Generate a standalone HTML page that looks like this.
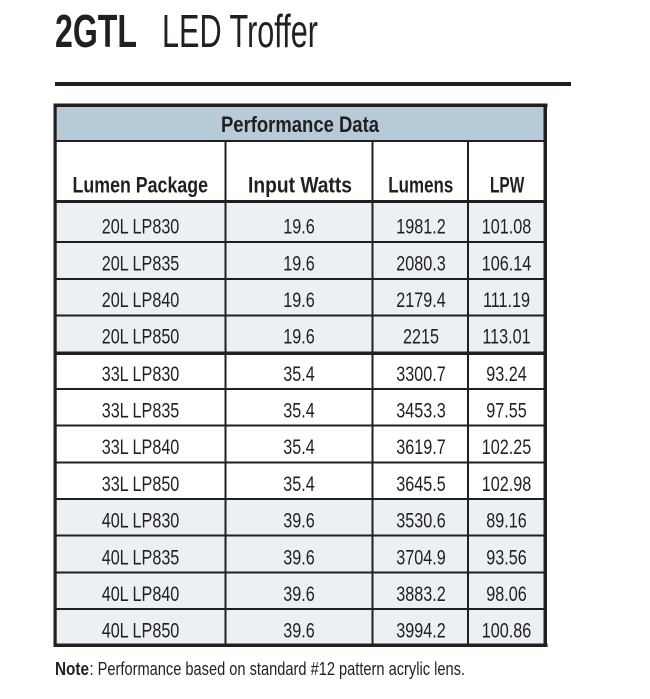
<!DOCTYPE html>
<html>
<head>
<meta charset="utf-8">
<style>
html,body{margin:0;padding:0;background:#fff;}
svg{display:block;}
text{font-family:"Liberation Sans",sans-serif;fill:#231f20;}
.b{font-weight:bold;}
.d{font-size:21px;text-anchor:middle;}
</style>
</head>
<body>
<svg width="650" height="699" viewBox="0 0 650 699" xmlns="http://www.w3.org/2000/svg">
<rect x="0" y="0" width="650" height="699" fill="#fff"/>
<!-- Title -->
<text x="55" y="47" class="b" font-size="46" textLength="82" lengthAdjust="spacingAndGlyphs">2GTL</text>
<text x="162" y="47" font-size="46" textLength="156" lengthAdjust="spacingAndGlyphs">LED Troffer</text>
<rect x="55" y="82" width="516" height="4" fill="#231f20"/>

<!-- table backgrounds -->
<rect x="54" y="104" width="492" height="38" fill="#b6cad7"/>
<rect x="54" y="142" width="492" height="60" fill="#fff"/>
<rect x="54" y="202" width="492" height="152" fill="#eaf0f4"/>
<rect x="54" y="352" width="492" height="148" fill="#fff"/>
<rect x="54" y="499" width="492" height="146" fill="#eaf0f4"/>

<!-- horizontal lines -->
<g fill="#231f20">
<rect x="54" y="140" width="492" height="2"/>
<rect x="54" y="200" width="492" height="3"/>
<rect x="54" y="241" width="492" height="2"/>
<rect x="54" y="278" width="492" height="2"/>
<rect x="54" y="314.5" width="492" height="2"/>
<rect x="54" y="351.5" width="492" height="3.5"/>
<rect x="54" y="388" width="492" height="2"/>
<rect x="54" y="424.5" width="492" height="2"/>
<rect x="54" y="461.5" width="492" height="2"/>
<rect x="54" y="498" width="492" height="2"/>
<rect x="54" y="534.5" width="492" height="2"/>
<rect x="54" y="571.5" width="492" height="2"/>
<rect x="54" y="608" width="492" height="2"/>
<!-- verticals -->
<rect x="224.5" y="142" width="2" height="502"/>
<rect x="371.5" y="142" width="2" height="502"/>
<rect x="467" y="142" width="2" height="502"/>
<!-- outer border -->
<rect x="53.5" y="103.5" width="494" height="3.5"/>
<rect x="53.5" y="643.5" width="494" height="3.5"/>
<rect x="53.5" y="103.5" width="3.2" height="543.5"/>
<rect x="543.5" y="103.5" width="3.5" height="543.5"/>
</g>

<!-- headers -->
<text x="221" y="132" class="b" font-size="22" textLength="158" lengthAdjust="spacingAndGlyphs">Performance Data</text>
<text x="72.5" y="192.5" class="b" font-size="22" textLength="135.5" lengthAdjust="spacingAndGlyphs">Lumen Package</text>
<text x="248" y="192.5" class="b" font-size="22" textLength="104" lengthAdjust="spacingAndGlyphs">Input Watts</text>
<text x="388.3" y="192.5" class="b" font-size="22" textLength="65" lengthAdjust="spacingAndGlyphs">Lumens</text>
<text x="490" y="192.5" class="b" font-size="22" textLength="34.3" lengthAdjust="spacingAndGlyphs">LPW</text>

<!-- data rows -->
<g class="d">
<text class="d" transform="translate(140.5,233.5) scale(0.77,1)">20L LP830</text>
<text class="d" transform="translate(299,233.5) scale(0.77,1)">19.6</text>
<text class="d" transform="translate(421,233.5) scale(0.77,1)">1981.2</text>
<text class="d" transform="translate(506.5,233.5) scale(0.77,1)">101.08</text>

<text class="d" transform="translate(140.5,270.3) scale(0.77,1)">20L LP835</text>
<text class="d" transform="translate(299,270.3) scale(0.77,1)">19.6</text>
<text class="d" transform="translate(421,270.3) scale(0.77,1)">2080.3</text>
<text class="d" transform="translate(506.5,270.3) scale(0.77,1)">106.14</text>

<text class="d" transform="translate(140.5,307) scale(0.77,1)">20L LP840</text>
<text class="d" transform="translate(299,307) scale(0.77,1)">19.6</text>
<text class="d" transform="translate(421,307) scale(0.77,1)">2179.4</text>
<text class="d" transform="translate(506.5,307) scale(0.77,1)">111.19</text>

<text class="d" transform="translate(140.5,343.7) scale(0.77,1)">20L LP850</text>
<text class="d" transform="translate(299,343.7) scale(0.77,1)">19.6</text>
<text class="d" transform="translate(421,343.7) scale(0.77,1)">2215</text>
<text class="d" transform="translate(506.5,343.7) scale(0.77,1)">113.01</text>

<text class="d" transform="translate(140.5,381) scale(0.77,1)">33L LP830</text>
<text class="d" transform="translate(299,381) scale(0.77,1)">35.4</text>
<text class="d" transform="translate(421,381) scale(0.77,1)">3300.7</text>
<text class="d" transform="translate(506.5,381) scale(0.77,1)">93.24</text>

<text class="d" transform="translate(140.5,417.5) scale(0.77,1)">33L LP835</text>
<text class="d" transform="translate(299,417.5) scale(0.77,1)">35.4</text>
<text class="d" transform="translate(421,417.5) scale(0.77,1)">3453.3</text>
<text class="d" transform="translate(506.5,417.5) scale(0.77,1)">97.55</text>

<text class="d" transform="translate(140.5,454.2) scale(0.77,1)">33L LP840</text>
<text class="d" transform="translate(299,454.2) scale(0.77,1)">35.4</text>
<text class="d" transform="translate(421,454.2) scale(0.77,1)">3619.7</text>
<text class="d" transform="translate(506.5,454.2) scale(0.77,1)">102.25</text>

<text class="d" transform="translate(140.5,490.9) scale(0.77,1)">33L LP850</text>
<text class="d" transform="translate(299,490.9) scale(0.77,1)">35.4</text>
<text class="d" transform="translate(421,490.9) scale(0.77,1)">3645.5</text>
<text class="d" transform="translate(506.5,490.9) scale(0.77,1)">102.98</text>

<text class="d" transform="translate(140.5,527.6) scale(0.77,1)">40L LP830</text>
<text class="d" transform="translate(299,527.6) scale(0.77,1)">39.6</text>
<text class="d" transform="translate(421,527.6) scale(0.77,1)">3530.6</text>
<text class="d" transform="translate(506.5,527.6) scale(0.77,1)">89.16</text>

<text class="d" transform="translate(140.5,564.3) scale(0.77,1)">40L LP835</text>
<text class="d" transform="translate(299,564.3) scale(0.77,1)">39.6</text>
<text class="d" transform="translate(421,564.3) scale(0.77,1)">3704.9</text>
<text class="d" transform="translate(506.5,564.3) scale(0.77,1)">93.56</text>

<text class="d" transform="translate(140.5,601) scale(0.77,1)">40L LP840</text>
<text class="d" transform="translate(299,601) scale(0.77,1)">39.6</text>
<text class="d" transform="translate(421,601) scale(0.77,1)">3883.2</text>
<text class="d" transform="translate(506.5,601) scale(0.77,1)">98.06</text>

<text class="d" transform="translate(140.5,637.5) scale(0.77,1)">40L LP850</text>
<text class="d" transform="translate(299,637.5) scale(0.77,1)">39.6</text>
<text class="d" transform="translate(421,637.5) scale(0.77,1)">3994.2</text>
<text class="d" transform="translate(506.5,637.5) scale(0.77,1)">100.86</text>
</g>

<!-- note -->
<text x="55" y="675" class="b" font-size="18.5" textLength="34" lengthAdjust="spacingAndGlyphs">Note</text>
<text x="89.5" y="675" font-size="18.5" textLength="375.5" lengthAdjust="spacingAndGlyphs">: Performance based on standard #12 pattern acrylic lens.</text>
</svg>
</body>
</html>
